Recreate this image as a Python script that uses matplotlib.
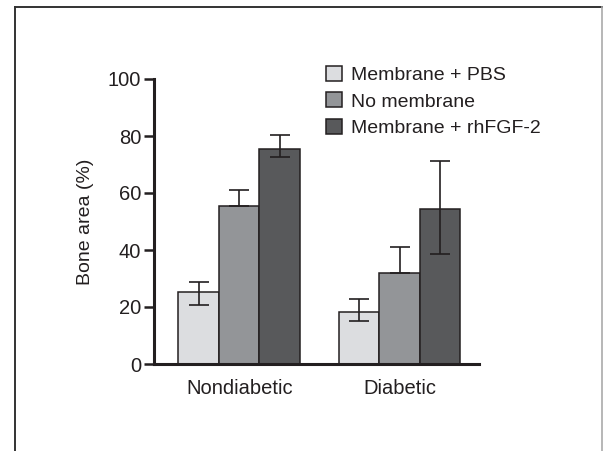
import matplotlib
matplotlib.use("Agg")
import matplotlib.pyplot as plt
import numpy as np
from matplotlib.lines import Line2D

groups = ["Nondiabetic", "Diabetic"]
series = ["Membrane + PBS", "No membrane", "Membrane + rhFGF-2"]
values = {
    "Membrane + PBS": [25.3, 18.4],
    "No membrane": [55.5, 31.8],
    "Membrane + rhFGF-2": [75.6, 54.4],
}
err_upper = {
    "Membrane + PBS": [3.3, 4.4],
    "No membrane": [5.4, 9.4],
    "Membrane + rhFGF-2": [4.6, 16.9],
}
err_lower = {
    "Membrane + PBS": [4.5, 3.3],
    "No membrane": [0, 0],
    "Membrane + rhFGF-2": [2.9, 15.8],
}
colors = ["#dcdde0", "#939598", "#58595b"]
yticks = [0, 20, 40, 60, 80, 100]
ylabel = "Bone area (%)"

plt.rcParams['font.family'] = ['Liberation Sans', 'DejaVu Sans']
txt = "#231f20"
W, H = 605, 451
fig = plt.figure(figsize=(W / 100, H / 100), dpi=100)

# outer frame
fig.add_artist(Line2D([15 / W, 15 / W], [-0.05, 1 - 7 / H], color="#333333", lw=1.4, transform=fig.transFigure))
fig.add_artist(Line2D([15 / W, 602 / W], [1 - 7 / H, 1 - 7 / H], color="#333333", lw=1.4, transform=fig.transFigure))
fig.add_artist(Line2D([602 / W, 602 / W], [-0.05, 1 - 7 / H], color="#aaaaaa", lw=1.2, transform=fig.transFigure))

ax = fig.add_axes([153.5 / W, 1 - 364 / H, (479 - 153.5) / W, (364 - 79) / H])

x = np.arange(len(groups))
w = 0.2527
handles = []
for i, s in enumerate(series):
    pos = x + (i - 1) * w
    b = ax.bar(pos, values[s], width=w, color=colors[i], edgecolor=txt, linewidth=1.1, zorder=2, label=s)
    handles.append(b)
    ax.errorbar(pos, values[s], yerr=[err_lower[s], err_upper[s]], fmt="none", ecolor=txt,
                elinewidth=1.2, capsize=7.4, capthick=1.2, zorder=3)

ax.set_xlim(-0.535, 1.496)
ax.set_ylim(0, 100)
ax.set_yticks(yticks)
ax.set_xticks(x)
ax.set_xticklabels(groups)
for sp in ["top", "right"]:
    ax.spines[sp].set_visible(False)
for sp in ["left", "bottom"]:
    ax.spines[sp].set_linewidth(2.2)
    ax.spines[sp].set_color(txt)
ax.tick_params(axis="y", length=7, width=1.8, color=txt, labelsize=14.5, labelcolor=txt, pad=2)
ax.tick_params(axis="x", length=0, labelsize=14.5, labelcolor=txt, pad=11)
ax.set_ylabel(ylabel, fontsize=14, color=txt, labelpad=10)

leg = fig.legend(handles=handles, labels=series, loc="upper left",
                 bbox_to_anchor=(326 / W, 1 - 66 / H), frameon=False, fontsize=14,
                 handlelength=0.8, handleheight=0.8, handletextpad=0.5, labelspacing=0.42,
                 borderpad=0, borderaxespad=0)
for t in leg.get_texts():
    t.set_color(txt)

fig.savefig("out.png", dpi=100)
